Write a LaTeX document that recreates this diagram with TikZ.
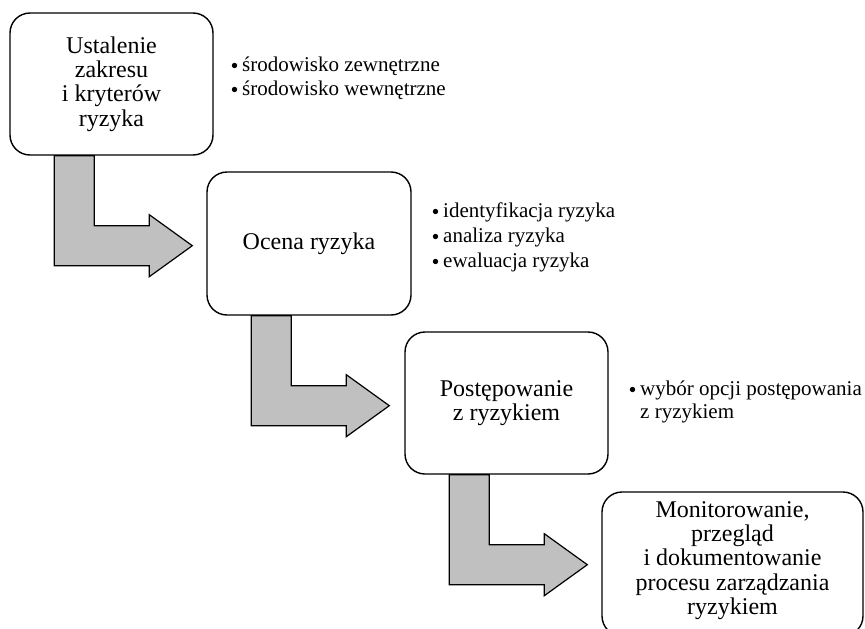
\documentclass[tikz,border=0pt]{standalone}
\usepackage{fontspec}
\setmainfont{Liberation Serif}
\usetikzlibrary{calc}
\definecolor{arrowgray}{RGB}{192,192,192}
\newcommand{\flowarrow}[1]{%
  \draw[flow] ($(#1.south west)+(45,0)$) -- ($(#1.south west)+(45,110)$)
    -- ($(#1.south west)+(140,110)$) -- ($(#1.south west)+(140,121)$)
    -- ($(#1.south west)+(183,90)$) -- ($(#1.south west)+(140,59)$)
    -- ($(#1.south west)+(140,70)$) -- ($(#1.south west)+(85,70)$)
    -- ($(#1.south west)+(85,0)$) -- cycle;}
% bullet dot: #1 = list node, #2 = baseline offset of the line
\newcommand{\listdot}[2]{\fill ($(#1.base west)+(-7.5,#2-5.5)$) circle (2.7pt);}
\begin{document}
\begin{tikzpicture}[x=1pt,y=-1pt,
  stage/.style={draw, line width=1.4pt, rounded corners=20pt, fill=white,
    inner sep=0pt, align=center, font=\fontsize{24}{24.3}\selectfont},
  flow/.style={draw, line width=1.2pt, fill=arrowgray, line join=miter},
  bullets/.style={inner sep=0pt, anchor=base west, font=\fontsize{21}{24}\selectfont},
  boxtext/.style={inner sep=0pt, align=center, font=\fontsize{24}{24.3}\selectfont}
]
\useasboundingbox (0,0) rectangle (865,629);
\clip (0,0) rectangle (865,629);

\node[stage, minimum width=203pt, minimum height=142pt] (b1) at (111.5,84)
  {Ustalenie\\zakresu\\i kryterów\\ryzyka};
\node[stage, minimum width=204pt, minimum height=143pt] (b2) at (309,243.5)
  {Ocena ryzyka};
\node[stage, minimum width=203pt, minimum height=142pt] (b3) at (506.5,403)
  {Postępowanie\\z ryzykiem};
\node[stage, minimum width=261pt, minimum height=144pt] (b4) at (732.5,564) {};
\node[boxtext] (t4) at (732.5,560.5)
  {Monitorowanie,\\przegląd\\i dokumentowanie\\procesu zarządzania\\ryzykiem};

\flowarrow{b1}
\flowarrow{b2}
\flowarrow{b3}

\node[bullets] (l1) at (242,71)
  {\begin{tabular}[t]{@{}l@{}}środowisko zewnętrzne\\
   środowisko wewnętrzne\end{tabular}};
\listdot{l1}{0}
\listdot{l1}{24}
\node[bullets, font=\fontsize{21}{25}\selectfont] (l2) at (443,217)
  {\begin{tabular}[t]{@{}l@{}}identyfikacja ryzyka\\
   analiza ryzyka\\
   ewaluacja ryzyka\end{tabular}};
\listdot{l2}{0}
\listdot{l2}{25}
\listdot{l2}{50}
\node[bullets, font=\fontsize{21}{23}\selectfont] (l3) at (640,395)
  {\begin{tabular}[t]{@{}l@{}}wybór opcji postępowania\\
   z ryzykiem\end{tabular}};
\listdot{l3}{0}
\end{tikzpicture}
\end{document}
